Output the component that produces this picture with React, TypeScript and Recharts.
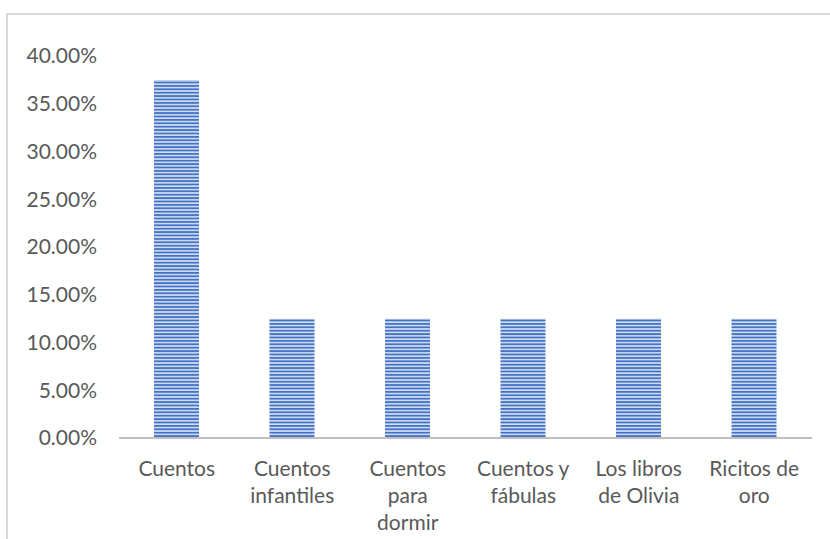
import { BarChart, Bar, XAxis, YAxis } from "recharts";

const categories = [
  "Cuentos",
  "Cuentos infantiles",
  "Cuentos para dormir",
  "Cuentos y fábulas",
  "Los libros de Olivia",
  "Ricitos de oro",
];
const shares = [0.375, 0.125, 0.125, 0.125, 0.125, 0.125];
const yTicks = [0, 0.05, 0.1, 0.15, 0.2, 0.25, 0.3, 0.35, 0.4];

const data = categories.map((name, i) => ({ name, value: shares[i] }));

const FONT = "Lato, 'Open Sans', sans-serif";
const FONT_SIZE = 21;
const TEXT_COLOR = "#595959";
const WRAP_WIDTH = 100;

let ctx: CanvasRenderingContext2D | null = null;
function measure(s: string) {
  if (!ctx) {
    ctx = document.createElement("canvas").getContext("2d");
  }
  if (!ctx) return s.length * FONT_SIZE * 0.5;
  ctx.font = `${FONT_SIZE}px ${FONT}`;
  return ctx.measureText(s).width;
}

// greedy word wrap of a category label
function wrap(label: string) {
  const lines: string[] = [];
  let cur = "";
  for (const w of label.split(" ")) {
    const next = cur ? `${cur} ${w}` : w;
    if (cur && measure(next) > WRAP_WIDTH) {
      lines.push(cur);
      cur = w;
    } else {
      cur = next;
    }
  }
  if (cur) lines.push(cur);
  return lines;
}

function CategoryTick(props: any) {
  const { x, y, payload } = props;
  const lines = wrap(String(payload.value));
  return (
    <text
      x={x}
      y={y + 30}
      textAnchor="middle"
      fill={TEXT_COLOR}
      style={{ fontFamily: FONT, fontSize: FONT_SIZE }}
    >
      {lines.map((l, i) => (
        <tspan key={i} x={x} dy={i === 0 ? 0 : 27}>
          {l}
        </tspan>
      ))}
    </text>
  );
}

export default function App() {
  return (
    <div
      style={{
        position: "absolute",
        left: 0,
        top: 0,
        width: 830,
        height: 539,
        overflow: "hidden",
        background: "#fff",
      }}
    >
      {/* chart frame, runs off the right and bottom edges */}
      <div
        style={{
          position: "absolute",
          left: 6,
          top: 13,
          width: 900,
          height: 600,
          border: "2px solid #d9d9d9",
          boxSizing: "border-box",
        }}
      />
      <div style={{ position: "absolute", left: 0, top: 0 }}>
        <BarChart
          width={830}
          height={539}
          data={data}
          margin={{ top: 56, right: 18, bottom: 0, left: 0 }}
        >
          <defs>
            <pattern id="hstripe" width="8" height="3.4" patternUnits="userSpaceOnUse">
              <rect width="8" height="3.4" fill="#d3def2" />
              <rect width="8" height="1.8" fill="#4472c4" />
            </pattern>
          </defs>
          <YAxis
            width={119}
            domain={[0, 0.4]}
            ticks={yTicks}
            axisLine={false}
            tickLine={false}
            tickSize={0}
            tickMargin={22}
            tickFormatter={(v: number) => `${(v * 100).toFixed(2)}%`}
            tick={{ fill: TEXT_COLOR, fontSize: FONT_SIZE, fontFamily: FONT }}
          />
          <XAxis
            dataKey="name"
            height={101}
            interval={0}
            tickLine={false}
            axisLine={{ stroke: "#bfbfbf", strokeWidth: 2 }}
            tick={<CategoryTick />}
          />
          <Bar dataKey="value" barSize={45} fill="url(#hstripe)" isAnimationActive={false} />
        </BarChart>
      </div>
    </div>
  );
}
